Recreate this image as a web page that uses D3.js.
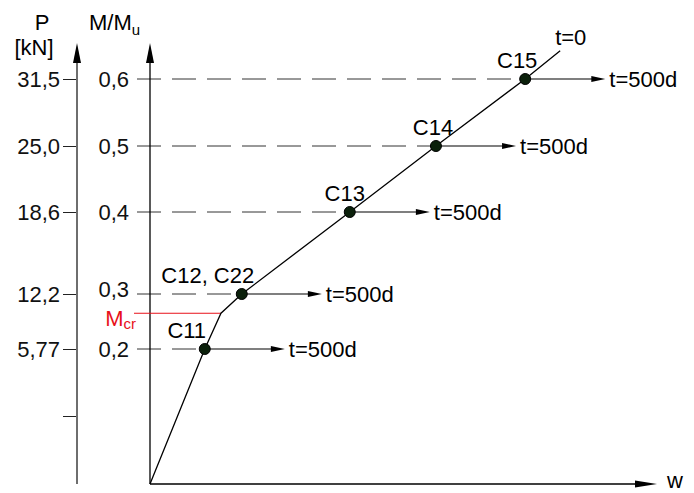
<!DOCTYPE html>
<html>
<head>
<meta charset="utf-8">
<script src="https://cdn.jsdelivr.net/npm/d3@7"></script>
<style>
  body { margin: 0; background: #fff; }
  svg { display: block; font-family: "Liberation Sans", Arial, sans-serif; }
</style>
</head>
<body>
<svg id="chart" width="694" height="493"></svg>
<script>
// moment ratio levels and the matching loads
var mLevels = [0.2, 0.3, 0.4, 0.5, 0.6];
var mLabels = ['0,2', '0,3', '0,4', '0,5', '0,6'];
var pLabels = ['5,77', '12,2', '18,6', '25,0', '31,5'];
var pBlankTicks = [0.1];

// specimens loaded at each level
var specimens = ['C11', 'C12, C22', 'C13', 'C14', 'C15'];
var specW = [10.8, 18.1, 39.4, 56.4, 74.0];
var creepW = [15.8, 15.8, 15.8, 15.8, 15.8];

// short-term M-w curve (t=0)
var curveW = [0, 10.8, 14.0, 18.1, 39.4, 56.4, 74.0, 80.9];
var curveM = [0, 0.2, 0.265, 0.3, 0.4, 0.5, 0.6, 0.642];
var mCr = 0.265;
var wCr = 14.0;

var svg = d3.select('#chart');
var FONT = 22;

var x = d3.scaleLinear().domain([0, 100]).range([150, 657]);
// schematic (non-uniform) vertical scale
var y = d3.scaleLinear()
    .domain([0, 0.1, 0.2, 0.3, 0.4, 0.5, 0.6])
    .range([484, 416, 349, 294, 212, 146, 79]);

var x0 = x(0), y0 = y(0), yTop = 43;

function arrowHead(tipX, tipY, dir, len, half) {
    // dir: 'up' or 'right'
    if (dir === 'up') {
        return 'M' + tipX + ',' + tipY + 'L' + (tipX - half) + ',' + (tipY + len) +
            'L' + (tipX + half) + ',' + (tipY + len) + 'Z';
    }
    return 'M' + tipX + ',' + tipY + 'L' + (tipX - len) + ',' + (tipY - half) +
        'L' + (tipX - len) + ',' + (tipY + half) + 'Z';
}

// ---- P axis (left, gray) ----
var pAxisX = 77;
var pAxis = d3.axisLeft(y)
    .tickValues(pBlankTicks.concat(mLevels))
    .tickSize(14)
    .tickPadding(3)
    .tickFormat(function (d) {
        var i = mLevels.indexOf(d);
        return i < 0 ? '' : pLabels[i];
    });
var gP = svg.append('g').attr('transform', 'translate(' + pAxisX + ',0)').call(pAxis);
gP.select('.domain').remove();
gP.selectAll('line').attr('stroke', '#222').attr('stroke-width', 1);
gP.selectAll('text').attr('font-size', FONT).attr('fill', '#111').attr('font-family', null);
svg.append('line')
    .attr('x1', pAxisX).attr('x2', pAxisX)
    .attr('y1', y0).attr('y2', yTop + 10)
    .attr('stroke', '#6e6e6e').attr('stroke-width', 2);
svg.append('path').attr('d', arrowHead(pAxisX, yTop, 'up', 20, 4)).attr('fill', '#000');

svg.append('text').attr('x', 42).attr('y', 30)
    .attr('text-anchor', 'middle').attr('font-size', FONT).text('P');
svg.append('text').attr('x', 34).attr('y', 55)
    .attr('text-anchor', 'middle').attr('font-size', FONT).text('[kN]');

// ---- M/Mu axis ----
var mAxis = d3.axisLeft(y)
    .tickValues(mLevels)
    .tickSize(13)
    .tickPadding(8)
    .tickFormat(function (d, i) { return mLabels[i]; });
var gM = svg.append('g').attr('transform', 'translate(' + x0 + ',0)').call(mAxis);
gM.select('.domain').remove();
gM.selectAll('line').remove();
gM.selectAll('text').attr('font-size', FONT).attr('fill', '#111').attr('font-family', null)
    .attr('dy', function (d) { return d === 0.3 ? '0.1em' : '0.34em'; });

var mTitle = svg.append('text').attr('x', 89).attr('y', 30).attr('font-size', FONT);
mTitle.append('tspan').text('M/M');
mTitle.append('tspan').attr('font-size', 15).attr('dy', 5).text('u');

// dashed load levels from the tick to each specimen
svg.append('g').selectAll('line')
    .data(mLevels)
    .enter().append('line')
    .attr('x1', x0 - 13)
    .attr('x2', function (d, i) { return x(specW[i]); })
    .attr('y1', function (d) { return y(d); })
    .attr('y2', function (d) { return y(d); })
    .attr('stroke', '#333')
    .attr('stroke-width', 1)
    .attr('stroke-dasharray', '24,11');

svg.append('line')
    .attr('x1', x0).attr('x2', x0)
    .attr('y1', y0).attr('y2', yTop + 10)
    .attr('stroke', '#000').attr('stroke-width', 1.3);
svg.append('path').attr('d', arrowHead(x0, yTop, 'up', 20, 4)).attr('fill', '#000');

// ---- w axis ----
svg.append('line')
    .attr('x1', x0).attr('x2', x(100) - 10)
    .attr('y1', y0).attr('y2', y0)
    .attr('stroke', '#000').attr('stroke-width', 1.3);
svg.append('path').attr('d', arrowHead(x(100), y0, 'right', 22, 3.5)).attr('fill', '#000');
svg.append('text').attr('x', x(100) + 10).attr('y', y0 + 4)
    .attr('font-size', FONT).text('w');

// ---- cracking moment ----
svg.append('line')
    .attr('x1', x0 - 16).attr('x2', x(wCr))
    .attr('y1', y(mCr)).attr('y2', y(mCr))
    .attr('stroke', '#e8101a').attr('stroke-width', 1);
var mcrText = svg.append('text')
    .attr('x', x0 - 14).attr('y', y(mCr) + 13)
    .attr('text-anchor', 'end')
    .attr('font-size', FONT).attr('fill', '#e8101a');
mcrText.append('tspan').text('M');
mcrText.append('tspan').attr('font-size', 15).attr('dy', 3).text('cr');

// ---- t=0 curve ----
var line = d3.line()
    .x(function (d) { return x(d[0]); })
    .y(function (d) { return y(d[1]); });
svg.append('path')
    .datum(d3.zip(curveW, curveM))
    .attr('d', line)
    .attr('fill', 'none')
    .attr('stroke', '#000')
    .attr('stroke-width', 1.3);
var last = curveW.length - 1;
svg.append('text')
    .attr('x', x(curveW[last]) - 5).attr('y', y(curveM[last]) - 6)
    .attr('font-size', FONT).text('t=0');

// ---- creep arrows (t=500d) ----
var creep = svg.append('g');
mLevels.forEach(function (m, i) {
    var xs = x(specW[i]), xe = x(specW[i] + creepW[i]), yy = y(m);
    creep.append('line')
        .attr('x1', xs).attr('x2', xe - 10)
        .attr('y1', yy).attr('y2', yy)
        .attr('stroke', '#000').attr('stroke-width', 1.2);
    creep.append('path').attr('d', arrowHead(xe, yy, 'right', 14, 3)).attr('fill', '#000');
    creep.append('text')
        .attr('x', xe + 4).attr('y', yy).attr('dy', '0.35em')
        .attr('font-size', FONT).text('t=500d');
});

// ---- specimen points ----
var labelDx = [-18, -34, -5, -3, -8];
svg.append('g').selectAll('circle')
    .data(mLevels)
    .enter().append('circle')
    .attr('cx', function (d, i) { return x(specW[i]); })
    .attr('cy', function (d) { return y(d); })
    .attr('r', 5.5)
    .attr('fill', '#0b200b')
    .attr('stroke', '#000')
    .attr('stroke-width', 1);

svg.append('g').selectAll('text')
    .data(mLevels)
    .enter().append('text')
    .attr('x', function (d, i) { return x(specW[i]) + labelDx[i]; })
    .attr('y', function (d) { return y(d) - 11; })
    .attr('text-anchor', 'middle')
    .attr('font-size', FONT)
    .text(function (d, i) { return specimens[i]; });
</script>
</body>
</html>
